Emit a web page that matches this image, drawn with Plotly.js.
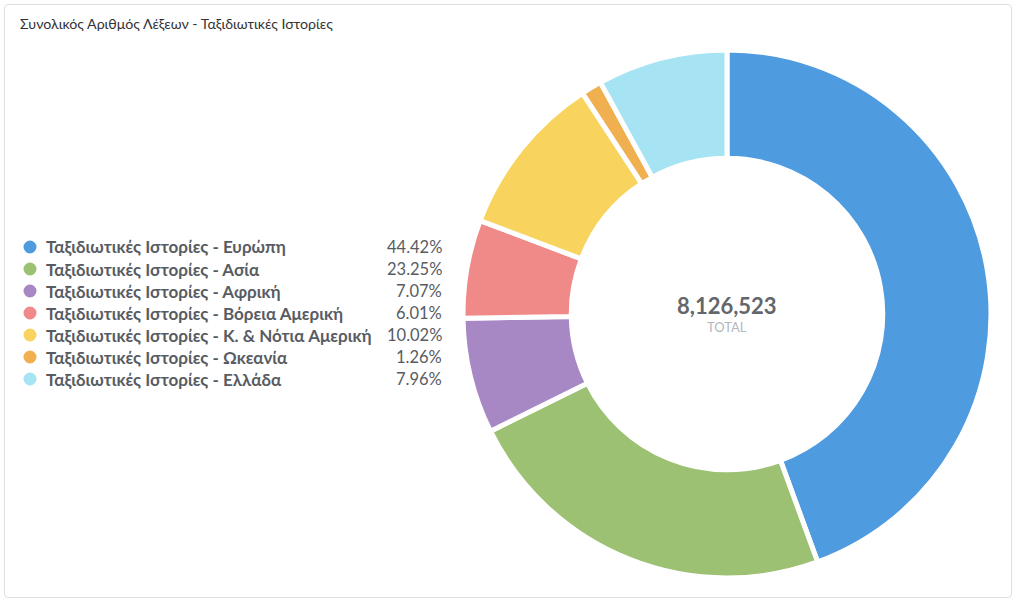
<!DOCTYPE html>
<html>
<head>
<meta charset="utf-8">
<script src="https://cdn.plot.ly/plotly-3.0.1.min.js"></script>
<style>
html,body{margin:0;padding:0;background:#ffffff;}
#card{position:absolute;left:4px;top:4px;width:1006px;height:592px;border:1px solid #dcdfe3;border-radius:4px;box-sizing:content-box;}
#chart{position:absolute;left:0;top:0;width:1017px;height:604px;}
</style>
</head>
<body>
<div id="card"></div>
<div id="chart"></div>
<script>
const chartTitle = "Συνολικός Αριθμός Λέξεων - Ταξιδιωτικές Ιστορίες";
const categories = [
  "Ταξιδιωτικές Ιστορίες - Ευρώπη",
  "Ταξιδιωτικές Ιστορίες - Ασία",
  "Ταξιδιωτικές Ιστορίες - Αφρική",
  "Ταξιδιωτικές Ιστορίες - Βόρεια Αμερική",
  "Ταξιδιωτικές Ιστορίες - Κ. & Νότια Αμερική",
  "Ταξιδιωτικές Ιστορίες - Ωκεανία",
  "Ταξιδιωτικές Ιστορίες - Ελλάδα"
];
const percents = [44.42, 23.25, 7.07, 6.01, 10.02, 1.26, 7.96];
const totalWords = 8126523;
const colors = ["#4f9be0", "#9dc173", "#a887c5", "#ef8a88", "#f8d45e", "#f0b04f", "#a6e4f4"];

const values = percents.map(p => Math.round(totalWords * p / 100));

const W = 1017, H = 604;
const font = "Lato, 'Open Sans', sans-serif";

const trace = {
  type: "pie",
  labels: categories,
  values: values,
  hole: 0.59,
  sort: false,
  direction: "clockwise",
  rotation: 0,
  textinfo: "none",
  hoverinfo: "label+percent",
  marker: {colors: colors, line: {color: "#ffffff", width: 5}},
  domain: {x: [463 / W, 991 / W], y: [(H - 578) / H, (H - 50) / H]},
  showlegend: false
};

const annotations = [];
const shapes = [];
const rowY0 = 247, rowStep = 22;
categories.forEach((c, i) => {
  const yPx = rowY0 + i * rowStep;
  const yp = 1 - yPx / H;
  annotations.push({
    xref: "paper", yref: "paper", x: 44 / W, y: yp,
    xanchor: "left", yanchor: "middle", showarrow: false,
    text: c, font: {family: font, size: 17, color: "#585c62", weight: 700}
  });
  annotations.push({
    xref: "paper", yref: "paper", x: 444 / W, y: yp,
    xanchor: "right", yanchor: "middle", showarrow: false,
    text: percents[i].toFixed(2) + "%", font: {family: font, size: 16.5, color: "#585c62", weight: 400}
  });
  shapes.push({
    type: "circle", xref: "paper", yref: "paper",
    x0: 23.5 / W, x1: 36.5 / W, y0: 1 - (yPx + 6.5) / H, y1: 1 - (yPx - 6.5) / H,
    fillcolor: colors[i], line: {width: 0}
  });
});

annotations.push({
  xref: "paper", yref: "paper", x: 727 / W, y: 1 - 305 / H,
  xanchor: "center", yanchor: "middle", showarrow: false,
  text: totalWords.toLocaleString("en-US"),
  font: {family: font, size: 22, color: "#63666b", weight: 700}
});
annotations.push({
  xref: "paper", yref: "paper", x: 727 / W, y: 1 - 327 / H,
  xanchor: "center", yanchor: "middle", showarrow: false,
  text: "TOTAL", font: {family: font, size: 13, color: "#b3b8c0"}
});

const layout = {
  width: W, height: H,
  margin: {l: 0, r: 0, t: 0, b: 0},
  paper_bgcolor: "rgba(0,0,0,0)",
  plot_bgcolor: "rgba(0,0,0,0)",
  title: {text: chartTitle, x: 20 / W, xanchor: "left", y: 1 - 24 / H, yanchor: "middle",
          font: {family: font, size: 14.2, color: "#333333", weight: 400}},
  annotations: annotations,
  shapes: shapes,
  showlegend: false
};

Plotly.newPlot("chart", [trace], layout, {displayModeBar: false});
</script>
</body>
</html>
